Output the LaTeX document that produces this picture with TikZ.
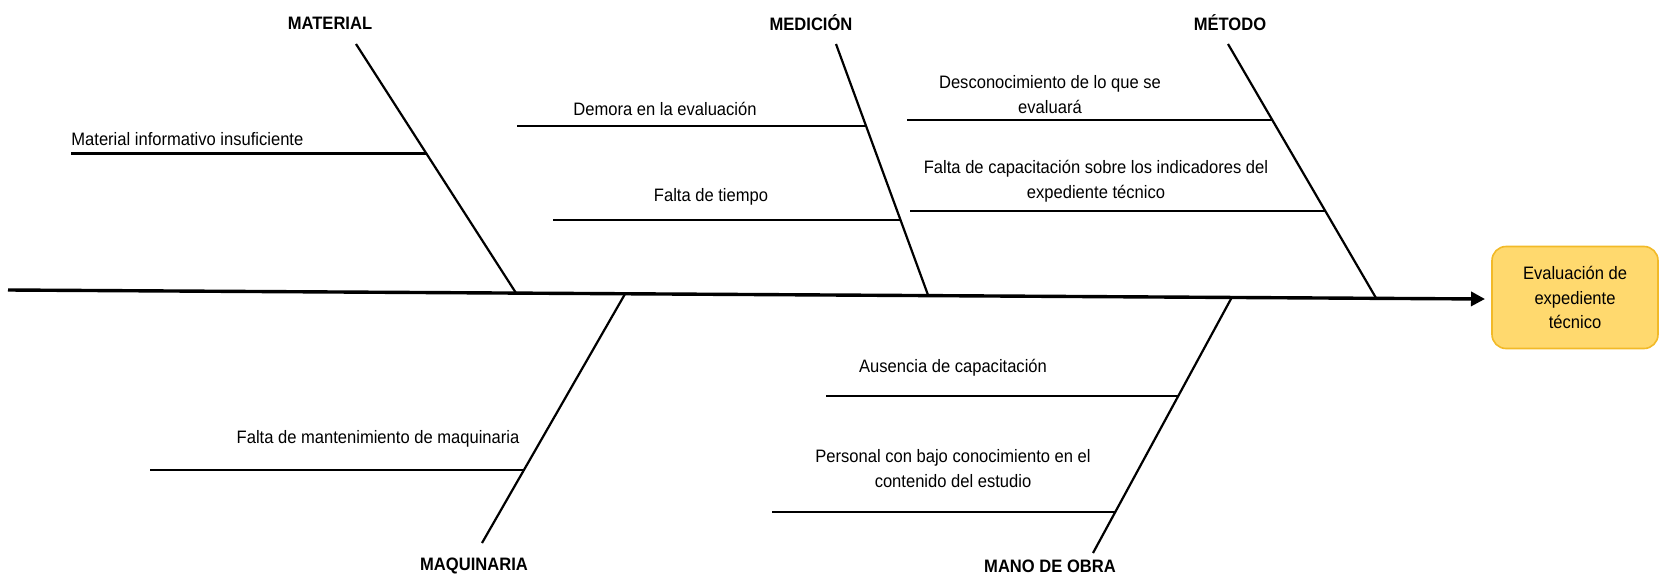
\documentclass[tikz,border=0pt]{standalone}
\usepackage{fontspec}
\setmainfont{Liberation Sans}[FakeStretch=0.92]
\usetikzlibrary{arrows.meta,calc}
\definecolor{boxfill}{RGB}{255,217,110}
\definecolor{boxline}{RGB}{242,186,40}
\tikzset{
  bone/.style={line width=1.1pt},
  twig/.style={line width=1.2pt},
  spine/.style={line width=1.7pt,-{Triangle[length=7pt,width=7pt]}},
  cat/.style={font=\fontsize{9}{11}\selectfont\bfseries,inner sep=0pt},
  cause/.style={font=\fontsize{9}{12.5}\selectfont,align=center,inner sep=0pt},
  effect/.style={draw=boxline,fill=boxfill,rounded corners=7pt,line width=0.8pt,
    minimum width=83pt,minimum height=51pt,align=center,
    font=\fontsize{9}{12.3}\selectfont}
}

\begin{document}
\begin{tikzpicture}[x=0.5pt,y=-0.5pt]
\useasboundingbox (0,0) rectangle (1660,578);
%spine
\coordinate (spL) at (8,290);
\coordinate (spR) at (1485,299);
\node[effect] (efecto) at (1575,297.5) {Evaluación de\\expediente\\técnico};
\draw[spine] (spL) -- (spR);
%bones
\coordinate (matT) at (356,44);   \coordinate (matB) at (516,293);
\coordinate (medT) at (836,44);   \coordinate (medB) at (928,295);
\coordinate (metT) at (1228,44);  \coordinate (metB) at (1376,298);
\coordinate (maqT) at (625,294);  \coordinate (maqB) at (482,543);
\coordinate (manT) at (1232,297); \coordinate (manB) at (1093,553);
\draw[bone] (matT) -- (matB);
\draw[bone] (medT) -- (medB);
\draw[bone] (metT) -- (metB);
\draw[bone] (maqT) -- (maqB);
\draw[bone] (manT) -- (manB);
\node[cat] (material) at (330,23) {MATERIAL};
\node[cat] (medicion) at (811,23) {MEDICIÓN};
\node[cat] (metodo) at (1230,23) {MÉTODO};
\node[cat] (maquinaria) at (474,566) {MAQUINARIA};
\node[cat] (manoobra) at (1050,566) {MANO DE OBRA};
%causes
\coordinate (c1) at ($(matT)!0.44!(matB)$);  \coordinate (c1L) at (71,153.5);
\coordinate (c2) at ($(medT)!0.327!(medB)$); \coordinate (c2L) at (517,126);
\coordinate (c3) at ($(medT)!0.701!(medB)$); \coordinate (c3L) at (553,220);
\coordinate (c4) at ($(metT)!0.299!(metB)$); \coordinate (c4L) at (907,120);
\coordinate (c5) at ($(metT)!0.657!(metB)$); \coordinate (c5L) at (910,211);
\coordinate (c6) at ($(maqT)!0.707!(maqB)$); \coordinate (c6L) at (150,470);
\coordinate (c7) at ($(manT)!0.387!(manB)$); \coordinate (c7L) at (826,396);
\coordinate (c8) at ($(manT)!0.84!(manB)$);  \coordinate (c8L) at (772,512);
\draw[twig] (c1L) -- (c1 |- c1L);
\draw[twig] (c2L) -- (c2 |- c2L);
\draw[twig] (c3L) -- (c3 |- c3L);
\draw[twig] (c4L) -- (c4 |- c4L);
\draw[twig] (c5L) -- (c5 |- c5L);
\draw[twig] (c6L) -- (c6 |- c6L);
\draw[twig] (c7L) -- (c7 |- c7L);
\draw[twig] (c8L) -- (c8 |- c8L);
\node[cause,anchor=west] (t1) at (71,139) {Material informativo insuficiente};
\node[cause] (t2) at (665,109) {Demora en la evaluación};
\node[cause] (t3) at (711,197) {Falta de tiempo};
\node[cause] (t4) at (1050,94.5) {Desconocimiento de lo que se\\evaluará};
\node[cause] (t5) at (1096,181) {Falta de capacitación sobre los indicadores del\\expediente técnico};
\node[cause] (t6) at (378,439) {Falta de mantenimiento de maquinaria};
\node[cause] (t7) at (953,368) {Ausencia de capacitación};
\node[cause] (t8) at (953,469) {Personal con bajo conocimiento en el\\contenido del estudio};
\end{tikzpicture}
\end{document}
